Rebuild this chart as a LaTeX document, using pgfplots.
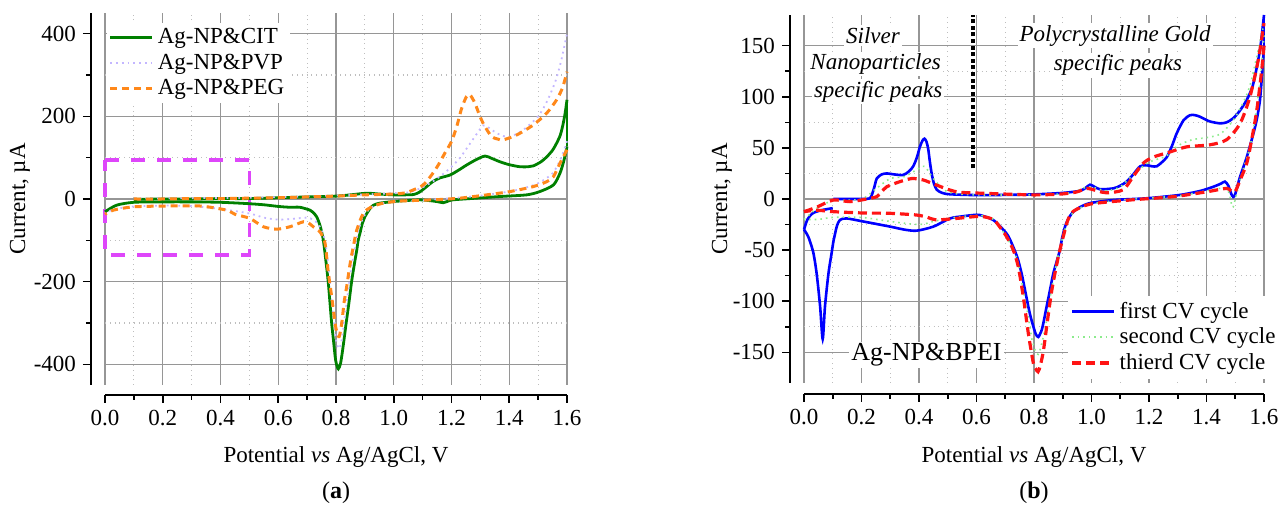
\documentclass[border=0pt]{standalone}
\usepackage{fontspec}
\setmainfont{Liberation Serif}
\usepackage{pgfplots}
\pgfplotsset{compat=1.18}

\definecolor{citgreen}{RGB}{0,128,0}
\definecolor{pvplav}{RGB}{195,182,255}
\definecolor{pegorange}{RGB}{255,136,26}
\definecolor{boxmag}{RGB}{222,70,250}
\definecolor{cycblue}{RGB}{0,0,255}
\definecolor{cycgreen}{RGB}{140,235,140}
\definecolor{cycred}{RGB}{255,20,20}
\definecolor{majgrid}{RGB}{150,150,150}
\definecolor{mingrid}{RGB}{190,190,190}

\newcommand{\basefont}{\fontsize{11.5}{13.5}\selectfont}

\pgfplotsset{
  cvstyle/.style={
    scale only axis,
    clip=false,
    axis x line*=bottom, axis y line*=left,
    axis line style={-, line width=0.9pt},
    xmin=0, xmax=1.6,
    xtick={0,0.2,0.4,0.6,0.8,1.0,1.2,1.4,1.6},
    minor x tick num=1, minor y tick num=1,
    grid=both,
    major grid style={majgrid, line width=0.6pt},
    minor grid style={mingrid, dotted, line width=0.6pt},
    tick align=outside,
    major tick length=4pt, minor tick length=2.5pt,
    tick style={black, line width=0.8pt},
    /pgf/number format/assume math mode=true,
    ticklabel style={font=\basefont},
    xticklabel style={/pgf/number format/fixed, /pgf/number format/fixed zerofill, /pgf/number format/precision=1},
    legend cell align=left,
    legend style={draw=none, fill=white, font=\basefont, inner sep=1pt, row sep=-0.6pt},
    legend image code/.code={\draw[##1] (0pt,0pt) -- (21pt,0pt);},
    every axis plot/.append style={smooth, tension=0.45},
  },
}

\begin{document}
\begin{tikzpicture}[x=1pt,y=1pt]
\useasboundingbox (0,0) rectangle (639.5,253.5);

% ---------------- (a) ----------------
\begin{axis}[cvstyle, at={(52.5pt,61pt)}, anchor=south west,
  width=231pt, height=186pt,
  axis x line shift=5pt, axis y line shift=7pt,
  ymin=-450, ymax=450, ytick={-400,-200,0,200,400},
  legend style={at={(0.003,0.975)}, anchor=north west}]

% highlighted region
\addplot[boxmag, line width=1.8pt, dash pattern=on 7pt off 6pt, sharp plot, forget plot]
  coordinates {(0,95) (0.5,95) (0.5,-135) (0,-135) (0,95)};

% Ag-NP&CIT
\addplot[citgreen, line width=1.4pt] coordinates {
 (0.10,-1) (0.2,0) (0.3,0) (0.4,1) (0.5,1) (0.6,3) (0.7,5) (0.8,7) (0.85,10)
 (0.906,14) (0.95,12) (0.998,10) (1.04,10) (1.07,11) (1.09,17) (1.114,30)
 (1.135,42) (1.16,51) (1.195,58) (1.225,70) (1.252,82) (1.285,95) (1.316,104)
 (1.34,98) (1.368,90) (1.4,83) (1.437,78) (1.465,78) (1.483,80) (1.51,90)
 (1.53,102) (1.55,118) (1.564,135) (1.577,155) (1.587,183) (1.594,210) (1.6,240)};
\addlegendentry{Ag-NP\&CIT}
\addplot[citgreen, line width=1.4pt, forget plot] coordinates {
 (1.6,127) (1.59,95) (1.576,63) (1.553,34) (1.506,18) (1.46,10) (1.368,6)
 (1.287,2) (1.206,-2) (1.185,-6) (1.172,-9) (1.155,-7) (1.137,-5) (1.091,-2)
 (1.04,-4) (1.002,-6) (0.952,-10) (0.93,-15) (0.918,-23) (0.9,-43) (0.89,-62)
 (0.883,-83) (0.877,-99) (0.872,-123) (0.863,-160) (0.854,-200) (0.845,-250)
 (0.835,-301) (0.825,-355) (0.816,-397) (0.808,-411) (0.801,-398) (0.797,-381)
 (0.791,-340) (0.785,-301) (0.779,-250) (0.773,-200) (0.765,-150) (0.756,-99)
 (0.745,-65) (0.733,-43) (0.72,-32) (0.71,-27) (0.675,-20) (0.64,-20) (0.6,-18)
 (0.55,-14) (0.49,-11) (0.4,-8) (0.3,-7) (0.2,-7) (0.1,-8) (0.04,-15) (0,-31)};
\addplot[citgreen, line width=1.4pt, sharp plot, forget plot] coordinates {(1.6,240) (1.6,127)};

% Ag-NP&PVP
\addplot[pvplav, line width=0.9pt, dotted] coordinates {
 (0.1,1) (0.3,2) (0.5,3) (0.7,6) (0.9,11) (1.0,14) (1.05,16) (1.09,25) (1.13,40)
 (1.17,60) (1.2,78) (1.23,100) (1.26,130) (1.29,160) (1.31,178) (1.33,172)
 (1.36,158) (1.4,150) (1.45,168) (1.5,200) (1.53,235) (1.56,285) (1.58,335) (1.6,400)};
\addlegendentry{Ag-NP\&PVP}
\addplot[pvplav, line width=0.9pt, dotted, forget plot] coordinates {
 (1.6,140) (1.58,100) (1.55,62) (1.5,38) (1.45,26) (1.4,18) (1.3,8) (1.2,2)
 (1.1,-3) (1.0,-6) (0.95,-12) (0.92,-22) (0.9,-38) (0.88,-70) (0.865,-120)
 (0.85,-180) (0.835,-260) (0.82,-340) (0.81,-362) (0.8,-340) (0.79,-280)
 (0.78,-210) (0.77,-140) (0.76,-95) (0.74,-62) (0.72,-50) (0.7,-45) (0.65,-48)
 (0.6,-50) (0.55,-45) (0.5,-35) (0.4,-24) (0.3,-17) (0.2,-16) (0.1,-18) (0.03,-25) (0,-35)};

% Ag-NP&PEG
\addplot[pegorange, line width=1.5pt, dash pattern=on 3.5pt off 2.5pt] coordinates {
 (0.1,0) (0.2,0) (0.3,1) (0.4,1) (0.5,2) (0.6,3) (0.7,5) (0.8,7) (0.9,10) (1.0,12)
 (1.04,15) (1.068,22) (1.102,34) (1.131,58) (1.154,82) (1.177,111) (1.2,139)
 (1.218,175) (1.235,219) (1.252,248) (1.264,252) (1.281,232) (1.299,199)
 (1.316,175) (1.339,151) (1.36,145) (1.379,143) (1.426,155) (1.483,179)
 (1.53,208) (1.564,240) (1.585,270) (1.6,308)};
\addlegendentry{Ag-NP\&PEG}
\addplot[pegorange, line width=1.5pt, dash pattern=on 3.5pt off 2.5pt, forget plot] coordinates {
 (1.6,119) (1.576,87) (1.553,54) (1.53,42) (1.483,30) (1.403,18) (1.322,10)
 (1.229,2) (1.137,-2) (1.022,-5) (0.964,-10) (0.924,-19) (0.895,-34) (0.872,-75)
 (0.86,-115) (0.849,-156) (0.837,-212) (0.828,-250) (0.82,-300) (0.811,-333)
 (0.803,-322) (0.797,-301) (0.785,-236) (0.773,-176) (0.762,-107) (0.745,-80)
 (0.721,-67) (0.705,-58) (0.687,-55) (0.641,-67) (0.595,-73) (0.548,-67)
 (0.502,-47) (0.45,-37) (0.421,-27) (0.33,-17) (0.214,-17) (0.098,-19)
 (0.029,-27) (0,-37)};
\end{axis}

\node[rotate=90, font=\basefont] at (10,154) {Current, µA};
\node[font=\basefont] at (168,25) {Potential \textit{vs} Ag/AgCl, V};
\node[font=\fontsize{12}{14}\selectfont] at (168,7) {(\textbf{a})};

% ---------------- (b) ----------------
\begin{axis}[cvstyle, at={(402pt,62pt)}, anchor=south west,
  width=230pt, height=184pt,
  axis x line shift=5.5pt, axis y line shift=7pt,
  ymin=-180, ymax=180, ytick={-150,-100,-50,0,50,100,150},
  legend style={at={(0.574,0.238)}, anchor=north west}]

% first CV cycle
\addplot[cycblue, line width=1.3pt] coordinates {
 (0.102,0) (0.15,0) (0.2,0) (0.23,1) (0.243,10) (0.253,20) (0.27,24) (0.288,25)
 (0.315,24) (0.345,23.5) (0.365,27) (0.38,32) (0.393,41) (0.403,51) (0.412,57)
 (0.419,59) (0.426,56) (0.432,49) (0.438,36) (0.444,25) (0.452,15) (0.462,9)
 (0.48,6) (0.508,4.6) (0.6,3.8) (0.7,4) (0.8,4.5) (0.902,6) (0.96,8) (0.98,11)
 (0.995,14) (1.01,12) (1.03,9.5) (1.076,10.4) (1.1,13) (1.122,17) (1.145,24)
 (1.169,32) (1.192,33) (1.21,32) (1.227,32) (1.245,36) (1.262,41) (1.28,52)
 (1.296,64) (1.32,77) (1.343,82) (1.36,82) (1.377,80.5) (1.41,76) (1.447,74)
 (1.47,75) (1.493,79) (1.515,86) (1.54,97) (1.56,110) (1.575,129) (1.588,150) (1.6,180)};
\addlegendentry{first CV cycle}
\addplot[cycblue, line width=1.3pt, forget plot] coordinates {
 (1.6,150) (1.594,125) (1.586,97) (1.575,78) (1.563,64) (1.54,41) (1.517,22)
 (1.505,10) (1.499,4) (1.493,2) (1.486,5) (1.476,13) (1.464,17) (1.45,15)
 (1.424,12) (1.38,8) (1.308,4) (1.192,0.7) (1.076,-1) (0.995,-4) (0.96,-8)
 (0.937,-12.4) (0.92,-19) (0.908,-27) (0.898,-38) (0.89,-50) (0.878,-62)
 (0.867,-73) (0.855,-90) (0.844,-105) (0.835,-118) (0.827,-128) (0.815,-135)
 (0.806,-132) (0.798,-125) (0.788,-115) (0.78,-105) (0.768,-88) (0.757,-73)
 (0.743,-58) (0.728,-47) (0.71,-36) (0.693,-30) (0.658,-20.5) (0.612,-15.7)
 (0.589,-15.7) (0.55,-17) (0.508,-19) (0.45,-27) (0.392,-31) (0.35,-30)
 (0.299,-27) (0.206,-22) (0.148,-19) (0.125,-20.5) (0.115,-26) (0.108,-34)
 (0.102,-42) (0.096,-53) (0.085,-73) (0.073,-105) (0.065,-137) (0.056,-105)
 (0.044,-73) (0.032,-52) (0.015,-37) (0,-30)};
\addplot[cycblue, line width=1.3pt, forget plot] coordinates {
 (0,-30) (0.012,-20) (0.03,-14) (0.06,-11) (0.1,-9)};
\addplot[cycblue, line width=1.3pt, sharp plot, forget plot] coordinates {(1.6,180) (1.6,150)};

% second CV cycle
\addplot[cycgreen, line width=0.8pt, dotted] coordinates {
 (0,-20) (0.05,-8) (0.1,-2) (0.2,0) (0.25,10) (0.3,20) (0.35,22) (0.4,30)
 (0.42,32) (0.45,20) (0.5,7) (0.6,4) (0.9,5) (0.99,12) (1.05,8) (1.1,12)
 (1.15,25) (1.2,36) (1.26,42) (1.3,52) (1.35,58) (1.4,60) (1.45,64) (1.5,80)
 (1.55,110) (1.6,172)};
\addlegendentry{second CV cycle}
\addplot[cycgreen, line width=0.8pt, dotted, forget plot] coordinates {
 (1.6,160) (1.59,125) (1.57,80) (1.55,50) (1.52,22) (1.5,0) (1.49,-8) (1.47,10)
 (1.4,8) (1.3,3) (1.1,-1) (1.0,-5) (0.94,-12) (0.91,-28) (0.885,-54) (0.86,-90)
 (0.84,-125) (0.815,-152) (0.795,-140) (0.78,-115) (0.76,-85) (0.74,-58)
 (0.71,-40) (0.66,-20) (0.6,-16) (0.5,-19) (0.45,-22) (0.4,-25) (0.3,-22)
 (0.2,-18) (0.1,-18) (0.05,-20) (0,-20)};

% thierd CV cycle
\addplot[cycred, line width=1.6pt, dash pattern=on 4.5pt off 2.5pt] coordinates {
 (0,-12.4) (0.044,-8) (0.102,-1) (0.16,-2.6) (0.218,0) (0.253,2.3) (0.27,7)
 (0.288,12) (0.334,17) (0.375,20) (0.415,18.6) (0.46,13.7) (0.531,7) (0.624,5.6)
 (0.8,4) (0.9,5) (0.95,7) (0.983,10.4) (1.02,8) (1.053,6) (1.11,9) (1.145,22)
 (1.18,35) (1.215,41) (1.273,46) (1.331,51) (1.412,53) (1.47,58) (1.517,74)
 (1.551,100) (1.58,136) (1.6,172)};
\addlegendentry{thierd CV cycle}
\addplot[cycred, line width=1.6pt, dash pattern=on 4.5pt off 2.5pt, forget plot] coordinates {
 (1.6,150) (1.592,126) (1.575,87) (1.557,58) (1.54,35) (1.517,18.6) (1.499,7)
 (1.485,8) (1.47,10.4) (1.4,7) (1.285,2.3) (1.134,-1) (0.995,-5) (0.937,-12)
 (0.92,-19) (0.908,-30) (0.885,-56) (0.862,-89) (0.844,-125) (0.833,-148)
 (0.822,-163) (0.814,-169) (0.806,-166) (0.798,-161) (0.78,-131) (0.763,-96)
 (0.745,-66) (0.728,-50) (0.705,-37) (0.68,-27) (0.658,-20) (0.612,-17)
 (0.531,-19) (0.46,-20.5) (0.43,-18) (0.392,-15.7) (0.299,-14) (0.206,-13.7)
 (0.102,-12.4) (0.044,-11) (0,-12.4)};

% separator between the two regions
\addplot[black, line width=2pt, dash pattern=on 2pt off 1.3pt, sharp plot, forget plot]
  coordinates {(0.587,30) (0.587,180)};

\node[fill=white, inner sep=1pt, font=\basefont\itshape] at (axis cs:0.24,160) {Silver};
\node[fill=white, inner sep=1pt, font=\basefont\itshape] at (axis cs:0.249,132) {Nanoparticles};
\node[fill=white, inner sep=1pt, font=\basefont\itshape] at (axis cs:0.258,105) {specific peaks};
\node[fill=white, inner sep=1pt, font=\basefont\itshape] at (axis cs:1.082,159.5) {Polycrystalline Gold};
\node[fill=white, inner sep=1pt, font=\basefont\itshape] at (axis cs:1.092,131) {specific peaks};
\node[fill=white, inner sep=1pt, font=\fontsize{13}{15}\selectfont] at (axis cs:0.426,-152.6) {Ag-NP\&BPEI};
\end{axis}

\node[rotate=90, font=\basefont] at (361,154) {Current, µA};
\node[font=\basefont] at (517,25) {Potential \textit{vs} Ag/AgCl, V};
\node[font=\fontsize{12}{14}\selectfont] at (517,7) {(\textbf{b})};
\end{tikzpicture}
\end{document}
